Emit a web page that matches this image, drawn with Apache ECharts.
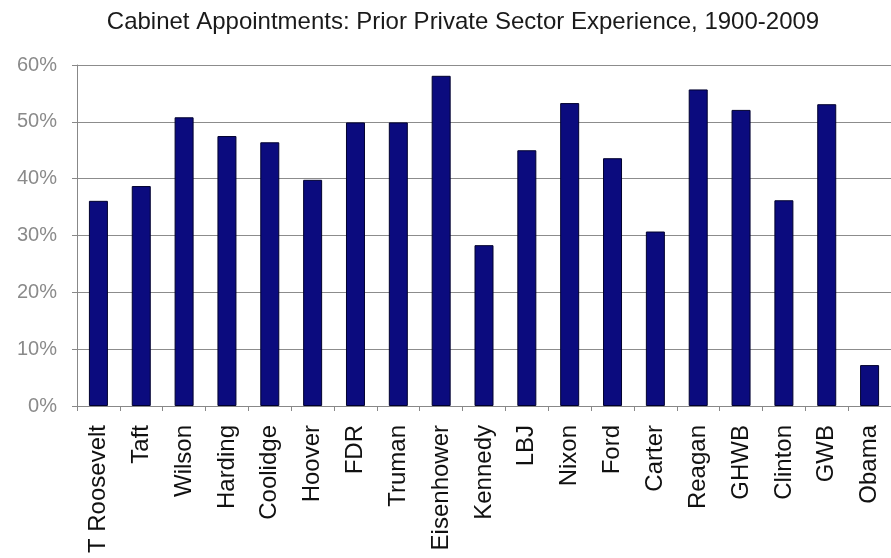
<!DOCTYPE html>
<html>
<head>
<meta charset="utf-8">
<script src="https://cdn.jsdelivr.net/npm/echarts@6/dist/echarts.min.js"></script>
<style>
  html, body { margin: 0; padding: 0; background: #fff; }
  #main { width: 891px; height: 558px; }
</style>
</head>
<body>
<div id="main"></div>
<script>
// presidents, 1900-2009
var presidents = ['T Roosevelt', 'Taft', 'Wilson', 'Harding', 'Coolidge', 'Hoover', 'FDR', 'Truman',
  'Eisenhower', 'Kennedy', 'LBJ', 'Nixon', 'Ford', 'Carter', 'Reagan', 'GHWB', 'Clinton', 'GWB', 'Obama'];
// share of cabinet with prior private sector experience (%)
var privateShare = [36.1, 38.7, 50.8, 47.5, 46.4, 39.8, 49.9, 49.9,
  58.1, 28.3, 45.0, 53.3, 43.6, 30.7, 55.7, 52.1, 36.2, 53.1, 7.2];
var yTicks = [0, 10, 20, 30, 40, 50, 60];

var myChart = echarts.init(document.getElementById('main'));
myChart.setOption({
  animation: false,
  backgroundColor: '#fff',
  title: {
    text: 'Cabinet Appointments: Prior Private Sector Experience, 1900-2009',
    left: 458,
    textAlign: 'center',
    top: 5,
    textStyle: { fontFamily: 'Liberation Sans', fontSize: 24, fontWeight: 'normal', color: '#1a1a1a' }
  },
  grid: { left: 77, right: -4, top: 65, bottom: 152 },
  xAxis: {
    type: 'category',
    data: presidents,
    axisLine: { lineStyle: { color: '#888', width: 1 } },
    axisTick: { show: true, length: 5, lineStyle: { color: '#888' } },
    axisLabel: {
      rotate: 90,
      margin: 19,
      interval: 0,
      fontFamily: 'Liberation Sans',
      fontSize: 24,
      color: '#111'
    }
  },
  yAxis: {
    type: 'value',
    min: yTicks[0],
    max: yTicks[yTicks.length - 1],
    interval: 10,
    axisLine: { show: true, lineStyle: { color: '#888', width: 1 } },
    axisTick: { show: true, length: 5, lineStyle: { color: '#888' } },
    splitLine: { lineStyle: { color: '#8c8c8c', width: 1 } },
    axisLabel: {
      formatter: '{value}%',
      margin: 20,
      fontFamily: 'Liberation Sans',
      fontSize: 20,
      color: '#8a8a8a'
    }
  },
  series: [{
    type: 'bar',
    data: privateShare,
    barWidth: 19,
    itemStyle: { color: '#0b0b7e', borderColor: '#00002e', borderWidth: 1 }
  }]
});
</script>
</body>
</html>
